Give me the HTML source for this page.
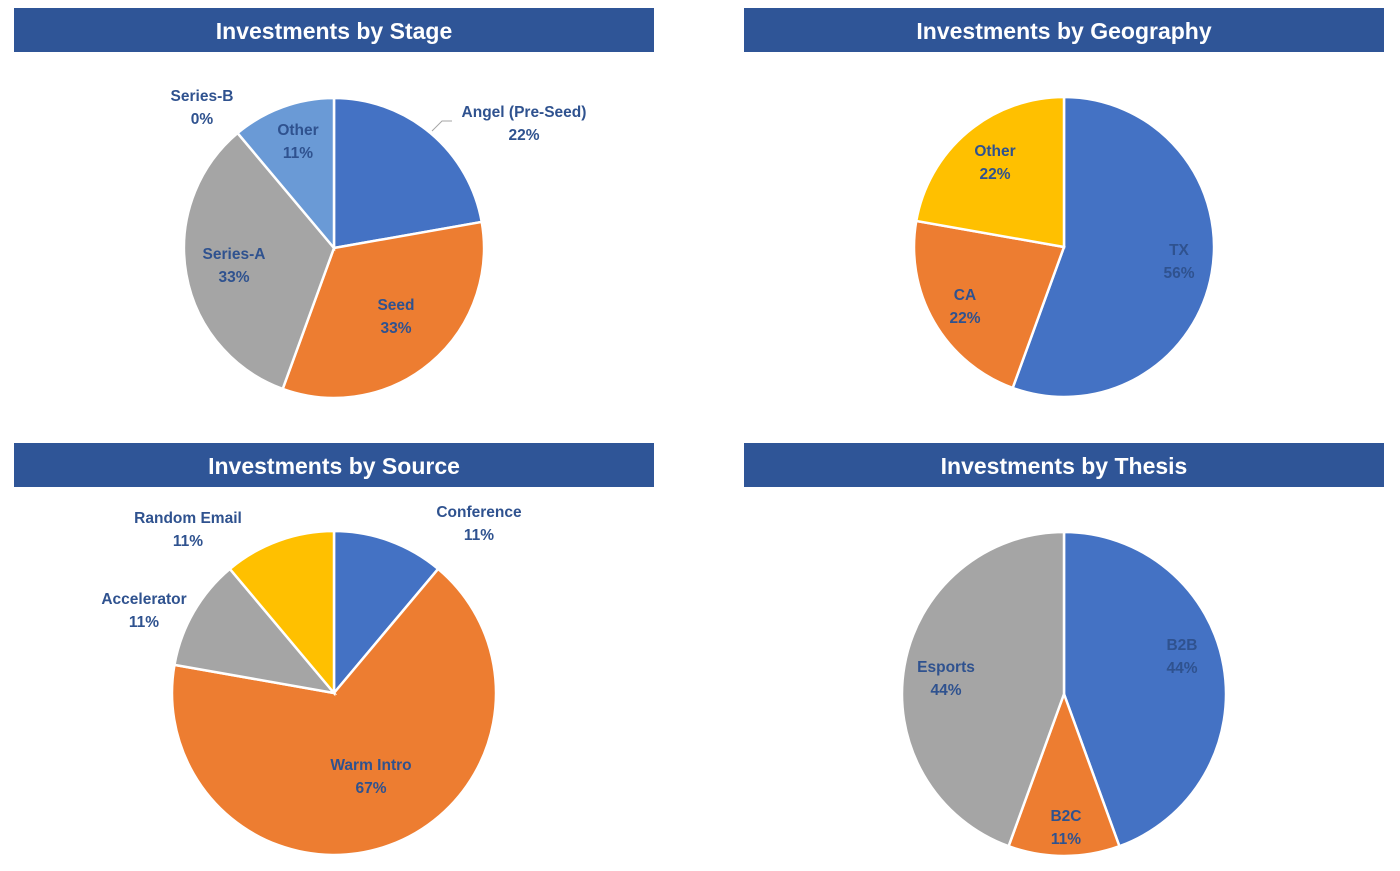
<!DOCTYPE html>
<html><head><meta charset="utf-8"><style>
body{margin:0;width:1400px;height:871px;background:#fff;overflow:hidden;font-family:"Liberation Sans",sans-serif}
.hdr{position:absolute;height:44px;width:640px;background:#2F5597;color:#fff;font-weight:bold;font-size:23px;text-align:center;line-height:46px}
svg{position:absolute;left:0;top:0}
</style></head><body>
<div class="hdr" style="left:14px;top:8px">Investments by Stage</div>
<div class="hdr" style="left:744px;top:8px">Investments by Geography</div>
<div class="hdr" style="left:14px;top:443px">Investments by Source</div>
<div class="hdr" style="left:744px;top:443px">Investments by Thesis</div>
<svg id="s" width="1400" height="871"></svg>
<script>
const stageCats=["Angel (Pre-Seed)","Seed","Series-A","Series-B","Other"];
const stageVals=[2,3,3,0,1];
const geoCats=["TX","CA","Other"];
const geoVals=[5,2,2];
const sourceCats=["Conference","Warm Intro","Accelerator","Random Email"];
const sourceVals=[1,6,1,1];
const thesisCats=["B2B","B2C","Esports"];
const thesisVals=[4,1,4];

const NS="http://www.w3.org/2000/svg";
const svg=document.getElementById('s');
function mk(t,a){const e=document.createElementNS(NS,t);for(const k in a)e.setAttribute(k,a[k]);svg.appendChild(e);return e;}
function pie(name,cx,cy,r,cats,vals,colors,labelPos){
  const tot=vals.reduce((a,b)=>a+b,0);let acc=0;
  cats.forEach((c,i)=>{
    const a0=acc/tot*2*Math.PI;acc+=vals[i];const a1=acc/tot*2*Math.PI;
    const x0=cx+r*Math.sin(a0),y0=cy-r*Math.cos(a0),x1=cx+r*Math.sin(a1),y1=cy-r*Math.cos(a1);
    const large=(a1-a0)>Math.PI?1:0;
    if(vals[i]>0){
      const p=mk('path',{d:`M${cx},${cy}L${x0},${y0}A${r},${r} 0 ${large} 1 ${x1},${y1}Z`,fill:colors[i],stroke:'#fff','stroke-width':2.5});
      
      
    }
    const lp=labelPos[i];
    const pct=Math.round(vals[i]/tot*100)+'%';
    const t=mk('text',{x:lp[0],y:lp[1],'text-anchor':'middle','font-size':15.5,'font-weight':'bold',fill:'#2F528F'});
    
    
    const s1=document.createElementNS(NS,'tspan');s1.setAttribute('x',lp[0]);s1.textContent=c;t.appendChild(s1);
    const s2=document.createElementNS(NS,'tspan');s2.setAttribute('x',lp[0]);s2.setAttribute('dy',23);s2.textContent=pct;t.appendChild(s2);
  });
}
const blue='#4472C4',orange='#ED7D31',gray='#A5A5A5',yellow='#FFC000',lblue='#6A9AD6';
pie('stage',334,248,150,stageCats,stageVals,[blue,orange,gray,yellow,lblue],[[524,117],[396,310],[234,259],[202,101],[298,135]]);
const ll=mk('polyline',{points:'432,131 442,121 452,121',fill:'none',stroke:'#A5A5A5','stroke-width':1});


pie('geography',1064,247,150,geoCats,geoVals,[blue,orange,yellow],[[1179,255],[965,300],[995,156]]);
pie('source',334,693,162,sourceCats,sourceVals,[blue,orange,gray,yellow],[[479,517],[371,770],[144,604],[188,523]]);
pie('thesis',1064,694,162,thesisCats,thesisVals,[blue,orange,gray],[[1182,650],[1066,821],[946,672]]);
</script>
</body></html>
